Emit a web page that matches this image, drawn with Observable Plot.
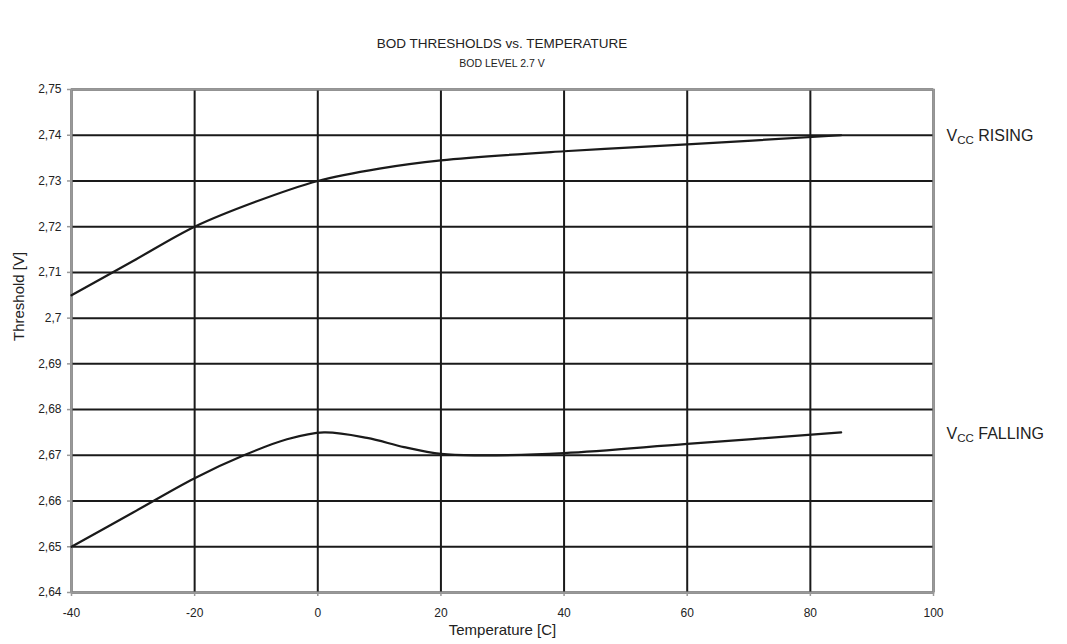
<!DOCTYPE html>
<html><head><meta charset="utf-8">
<script src="https://cdn.jsdelivr.net/npm/d3@7"></script>
<script src="https://cdn.jsdelivr.net/npm/@observablehq/plot@0.6"></script>
<style>
body{margin:0;background:#fff;font-family:"Liberation Sans",Arial,sans-serif;}
#wrap{position:relative;width:1067px;height:644px;}
#title{position:absolute;left:0;width:1004px;top:36px;text-align:center;font-size:13.5px;color:#222;}
#sub{position:absolute;left:0;width:1004px;top:57px;text-align:center;font-size:10.5px;color:#222;}
</style></head>
<body><div id="wrap"><div id="title">BOD THRESHOLDS vs. TEMPERATURE</div><div id="sub">BOD LEVEL 2.7 V</div><div id="chart"></div></div>
<script>
const xTicks = [-40, -20, 0, 20, 40, 60, 80, 100];
const yTicks = [2.64, 2.65, 2.66, 2.67, 2.68, 2.69, 2.70, 2.71, 2.72, 2.73, 2.74, 2.75];
const risingT = [-40, -30, -20, -10, 0, 10, 20, 40, 60, 85];
const risingV = [2.705, 2.7125, 2.72, 2.7255, 2.730, 2.7327, 2.7345, 2.7365, 2.738, 2.740];
const fallingT = [-40, -30, -20, -12, -5, 1, 8, 14, 20, 26, 40, 60, 85];
const fallingV = [2.650, 2.6575, 2.665, 2.670, 2.6735, 2.675, 2.6738, 2.6718, 2.6703, 2.670, 2.6705, 2.6725, 2.675];
const seriesLabels = ["RISING", "FALLING"];
const labelVals = [2.740, 2.675];

const rising = risingT.map((t, i) => ({t, v: risingV[i]}));
const falling = fallingT.map((t, i) => ({t, v: fallingV[i]}));
const labels = seriesLabels.map((s, i) => ({s, v: labelVals[i]}));
const fmt = d => String(+d.toFixed(2)).replace(".", ",");

const chart = Plot.plot({
  width: 1067, height: 644,
  marginTop: 89, marginBottom: 52, marginLeft: 71, marginRight: 134,
  style: {fontFamily: '"Liberation Sans", Arial, sans-serif', fontSize: "12px", color: "#222", background: "#fff"},
  x: {domain: [-40, 100], ticks: xTicks, tickFormat: d => String(d), label: null},
  y: {domain: [2.64, 2.75], ticks: yTicks, tickFormat: fmt, label: null},
  marks: [
    Plot.gridX(xTicks, {stroke: "#1a1a1a", strokeOpacity: 1, strokeWidth: 2}),
    Plot.gridY(yTicks, {stroke: "#1a1a1a", strokeOpacity: 1, strokeWidth: 2}),
    Plot.frame({stroke: "#999", strokeWidth: 2}),
    Plot.axisX(xTicks, {tickSize: 4, stroke: "#999", strokeWidth: 1.5, tickPadding: 12, fontSize: 12, tickFormat: d => String(d)}),
    Plot.axisY(yTicks, {tickSize: 4, stroke: "#999", strokeWidth: 1.5, tickPadding: 6, fontSize: 12, tickFormat: fmt}),
    Plot.line(rising, {x: "t", y: "v", curve: "catmull-rom", stroke: "#1a1a1a", strokeWidth: 2.2}),
    Plot.line(falling, {x: "t", y: "v", curve: "catmull-rom", stroke: "#1a1a1a", strokeWidth: 2.2}),
    Plot.text(labels, {x: () => 100, y: "v", text: "s", dx: 13, dy: 1, textAnchor: "start", fontSize: 16, fill: "#222", clip: false, className: "vcc"}),
    Plot.text(["Threshold [V]"], {frameAnchor: "left", dx: -52, rotate: -90, fontSize: 15, fill: "#222"}),
    Plot.text(["Temperature [C]"], {frameAnchor: "bottom", dy: 42, fontSize: 15, fill: "#222"})
  ]
});
document.getElementById("chart").appendChild(chart);
// add V with CC subscript before each label
chart.querySelectorAll("g.vcc text").forEach(t => {
  const s = t.textContent;
  t.textContent = "";
  const ns = "http://www.w3.org/2000/svg";
  const a = document.createElementNS(ns, "tspan"); a.textContent = "V";
  const b = document.createElementNS(ns, "tspan"); b.textContent = "CC"; b.setAttribute("font-size", "11.5"); b.setAttribute("dy", "3");
  const c = document.createElementNS(ns, "tspan"); c.textContent = " " + s; c.setAttribute("dy", "-3");
  t.append(a, b, c);
});
</script></body></html>
